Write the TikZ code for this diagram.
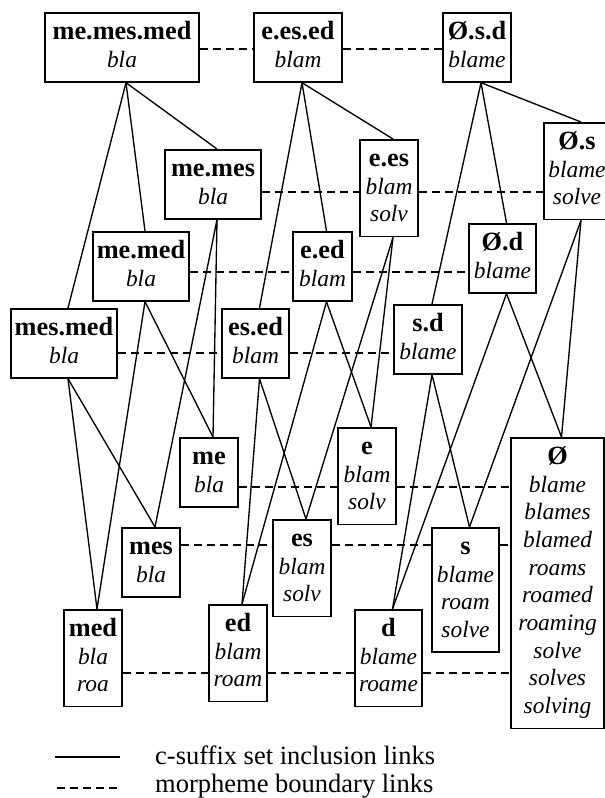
\documentclass[tikz,border=0pt]{standalone}
\usepackage{fontspec}
\setmainfont{Liberation Serif}
\newcommand\mystrut{\rule[-8pt]{0pt}{27.7pt}}
\newcommand\sfx[1]{{\fontsize{26.3}{27.7}\selectfont\bfseries #1}\mystrut}
\newcommand\stm[1]{{\itshape #1}\mystrut}
\tikzset{
  box/.style={draw, line width=1.7pt, anchor=north, align=center,
    inner xsep=2pt, inner ysep=6.8pt, font=\fontsize{23.4}{27.7}\selectfont},
  inc/.style={line width=1.35pt},
  mb/.style={line width=1.35pt, dash pattern=on 8pt off 5pt},
}
\begin{document}
\begin{tikzpicture}[x=1pt,y=-1pt]
\useasboundingbox (0,0) rectangle (605,798);
\fill[white] (0,0) rectangle (605,798);
% row coordinates for morpheme boundary links
\coordinate (r1) at (0,49);
\coordinate (r2) at (0,192);
\coordinate (r3) at (0,272);
\coordinate (r4) at (0,353);
\coordinate (r5) at (0,487);
\coordinate (r6) at (0,545);
\coordinate (r7) at (0,673);
% boxes
\node[box, minimum width=154pt] (mmm) at (122,12) {\sfx{me.mes.med}\\\stm{bla}};
\node[box, minimum width=88pt]  (eee) at (298,12) {\sfx{e.es.ed}\\\stm{blam}};
\node[box, minimum width=68pt]  (osd) at (477,12) {\sfx{Ø.s.d}\\\stm{blame}};
\node[box, minimum width=96pt]  (mm)  at (213,149) {\sfx{me.mes}\\\stm{bla}};
\node[box, minimum width=58pt]  (ees) at (389,139) {\sfx{e.es}\\\stm{blam}\\\stm{solv}};
\node[box, minimum width=66pt]  (os)  at (577,122) {\sfx{Ø.s}\\\stm{blame}\\\stm{solve}};
\node[box, minimum width=96pt]  (mmd) at (141,231) {\sfx{me.med}\\\stm{bla}};
\node[box, minimum width=59pt]  (eed) at (322.5,231) {\sfx{e.ed}\\\stm{blam}};
\node[box, minimum width=67pt]  (od)  at (502.5,223) {\sfx{Ø.d}\\\stm{blame}};
\node[box, minimum width=106pt] (msd) at (64,308) {\sfx{mes.med}\\\stm{bla}};
\node[box, minimum width=67pt]  (esd) at (255.5,308) {\sfx{es.ed}\\\stm{blam}};
\node[box, minimum width=68pt]  (sd)  at (428,304) {\sfx{s.d}\\\stm{blame}};
\node[box, minimum width=58pt]  (me)  at (209,437) {\sfx{me}\\\stm{bla}};
\node[box, minimum width=58pt]  (e)   at (367,427) {\sfx{e}\\\stm{blam}\\\stm{solv}};
\node[box, minimum width=93pt]  (O)   at (557.5,437) {\sfx{Ø}\\\stm{blame}\\\stm{blames}\\\stm{blamed}\\\stm{roams}\\\stm{roamed}\\\stm{roaming}\\\stm{solve}\\\stm{solves}\\\stm{solving}};
\node[box, minimum width=58pt]  (mes) at (151,527) {\sfx{mes}\\\stm{bla}};
\node[box, minimum width=58pt]  (es)  at (302,519) {\sfx{es}\\\stm{blam}\\\stm{solv}};
\node[box, minimum width=67pt]  (s)   at (465.5,527) {\sfx{s}\\\stm{blame}\\\stm{roam}\\\stm{solve}};
\node[box, minimum width=58pt]  (med) at (93,609) {\sfx{med}\\\stm{bla}\\\stm{roa}};
\node[box, minimum width=58pt]  (ed)  at (238,604) {\sfx{ed}\\\stm{blam}\\\stm{roam}};
\node[box, minimum width=67pt]  (d)   at (388.5,609) {\sfx{d}\\\stm{blame}\\\stm{roame}};
% morpheme boundary links
\draw[mb] (mmm.east |- r1) -- (eee.west |- r1);
\draw[mb] (eee.east |- r1) -- (osd.west |- r1);
\draw[mb] (mm.east |- r2) -- (ees.west |- r2);
\draw[mb] (ees.east |- r2) -- (os.west |- r2);
\draw[mb] (mmd.east |- r3) -- (eed.west |- r3);
\draw[mb] (eed.east |- r3) -- (od.west |- r3);
\draw[mb] (msd.east |- r4) -- (esd.west |- r4);
\draw[mb] (esd.east |- r4) -- (sd.west |- r4);
\draw[mb] (me.east |- r5) -- (e.west |- r5);
\draw[mb] (e.east |- r5) -- (O.west |- r5);
\draw[mb] (mes.east |- r6) -- (es.west |- r6);
\draw[mb] (es.east |- r6) -- (s.west |- r6);
\draw[mb] (s.east |- r6) -- (O.west |- r6);
\draw[mb] (med.east |- r7) -- (ed.west |- r7);
\draw[mb] (ed.east |- r7) -- (d.west |- r7);
\draw[mb] (d.east |- r7) -- (O.west |- r7);
% c-suffix set inclusion links
\newcommand\inc[2]{\draw[inc] ([xshift=4pt]#1.south) -- ([xshift=4pt]#2.north);}
\inc{mmm}{mm}\inc{mmm}{mmd}\inc{mmm}{msd}
\inc{eee}{ees}\inc{eee}{eed}\inc{eee}{esd}
\inc{osd}{os}\inc{osd}{od}\inc{osd}{sd}
\inc{mm}{me}\inc{mm}{mes}
\inc{mmd}{me}\inc{mmd}{med}
\inc{msd}{mes}\inc{msd}{med}
\inc{ees}{e}\inc{ees}{es}
\inc{eed}{e}\inc{eed}{ed}
\inc{esd}{es}\inc{esd}{ed}
\inc{os}{O}\inc{os}{s}
\inc{od}{O}\inc{od}{d}
\inc{sd}{s}\inc{sd}{d}
% legend
\coordinate (l1a) at (55,757);
\coordinate (l1b) at (120,757);
\coordinate (l2a) at (57,788);
\coordinate (l2b) at (120,788);
\draw[inc] (l1a) -- (l1b);
\draw[mb] (l2a) -- (l2b);
\node[anchor=base west, inner sep=0pt, font=\fontsize{26.5}{28}\selectfont] (t1) at (155,764) {c-suffix set inclusion links};
\node[anchor=base west, inner sep=0pt, font=\fontsize{26.5}{28}\selectfont] (t2) at (155,792) {morpheme boundary links};
\end{tikzpicture}
\end{document}
